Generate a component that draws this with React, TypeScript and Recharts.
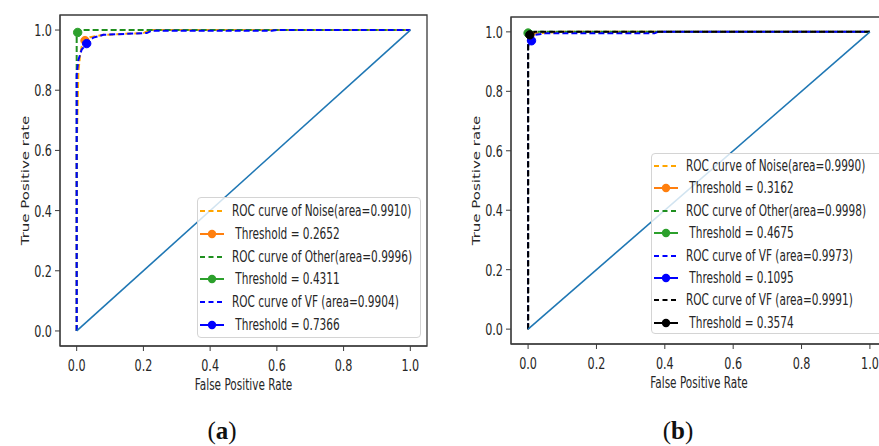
import React from 'react';
import { ComposedChart, Line, XAxis, YAxis, ReferenceArea } from 'recharts';

// ---------- data ----------
const AXIS_TICKS = [0, 0.2, 0.4, 0.6, 0.8, 1.0];
const DIAG_FPR = [0, 1];
const DIAG_TPR = [0, 1];

// panel (a)
const A_NOISE_FPR = [0, 0, 0.005, 0.01, 0.015, 0.025, 0.04, 0.08, 0.2, 0.22, 1];
const A_NOISE_TPR = [0, 0.6, 0.86, 0.915, 0.945, 0.965, 0.976, 0.984, 0.99, 1.0, 1];
const A_OTHER_FPR = [0, 0, 0.01, 1];
const A_OTHER_TPR = [0, 0.99, 1.0, 1];
const A_VF_FPR = [0, 0, 0.005, 0.015, 0.03, 0.05, 0.08, 0.21, 0.225, 0.585, 0.6, 1];
const A_VF_TPR = [0, 0.85, 0.9, 0.935, 0.955, 0.975, 0.984, 0.99, 0.998, 0.998, 1.0, 1];
const A_THR_FPR = [0.025, 0.003, 0.03];
const A_THR_TPR = [0.965, 0.992, 0.955];
const A_CURVE_LABELS = ['ROC curve of Noise(area=0.9910)', 'ROC curve of Other(area=0.9996)', 'ROC curve of VF (area=0.9904)'];
const A_THR_LABELS = [' Threshold = 0.2652', ' Threshold = 0.4311', ' Threshold = 0.7366'];

// panel (b)
const B_NOISE_FPR = [0, 0, 0.005, 0.02, 0.1, 1];
const B_NOISE_TPR = [0, 0.97, 0.985, 0.995, 1.0, 1];
const B_OTHER_FPR = [0, 0, 0.005, 1];
const B_OTHER_TPR = [0, 0.995, 1.0, 1];
const B_VF_FPR = [0, 0, 0.005, 0.02, 0.05, 0.37, 0.38, 1];
const B_VF_TPR = [0, 0.95, 0.97, 0.99, 0.995, 0.995, 1.0, 1];
const B_VF2_FPR = [0, 0, 0.005, 0.02, 1];
const B_VF2_TPR = [0, 0.98, 0.99, 1.0, 1];
const B_THR_FPR = [0.005, 0.0, 0.01, 0.005];
const B_THR_TPR = [0.99, 0.996, 0.97, 0.99];
const B_CURVE_LABELS = ['ROC curve of Noise(area=0.9990)', 'ROC curve of Other(area=0.9998)', 'ROC curve of VF (area=0.9973)', 'ROC curve of VF (area=0.9991)'];
const B_THR_LABELS = [' Threshold = 0.3162', ' Threshold = 0.4675', ' Threshold = 0.1095', ' Threshold = 0.3574'];

// ---------- styles ----------
const CURVE_COLORS = ['#ffa500', '#1f8f1f', '#0000ff', '#000000'];
const THR_COLORS = ['#ff7f0e', '#2ca02c', '#0000ff', '#000000'];
const DIAG_COLOR = '#1f77b4';
const FRAME = '#3a3a3a';
const TEXT = '#262626';
const FONT = 'DejaVu Sans';
const SQ = 0.7;

const toPts = (xs: number[], ys: number[]) => xs.map((x, i) => ({ x, y: ys[i] }));

const XTick = (props: any) => {
  const { x, y, payload } = props;
  return (
    <text transform={`translate(${x},${y + 19.5}) scale(${SQ},1)`} textAnchor="middle" fontSize={16} fill={TEXT} fontFamily={FONT}>
      {Number(payload.value).toFixed(1)}
    </text>
  );
};

const YTick = (props: any) => {
  const { x, y, payload } = props;
  return (
    <text transform={`translate(${x},${y + 6}) scale(${SQ},1)`} textAnchor="end" fontSize={16} fill={TEXT} fontFamily={FONT}>
      {Number(payload.value).toFixed(1)}
    </text>
  );
};

const renderXLabel = (p: any) => {
  const vb = p.viewBox || {};
  return (
    <text transform={`translate(${vb.x + vb.width / 2},${vb.y + 44}) scale(${SQ},1)`} textAnchor="middle" fontSize={15} fill={TEXT} fontFamily={FONT}>
      False Positive Rate
    </text>
  );
};

const renderYLabel = (p: any) => {
  const vb = p.viewBox || {};
  return (
    <text transform={`translate(${vb.x + vb.width - 31},${vb.y + vb.height / 2}) rotate(-90) scale(1,${SQ})`} textAnchor="middle" fontSize={15} fill={TEXT} fontFamily={FONT}>
      True Positive rate
    </text>
  );
};

type Series = { fpr: number[]; tpr: number[]; thrX: number; thrY: number; color: string; thrColor: string; label: string; thrLabel: string };

const buildSeries = (curves: [number[], number[]][], thrX: number[], thrY: number[], labels: string[], thrLabels: string[]): Series[] =>
  curves.map(([f, t], i) => ({
    fpr: f,
    tpr: t,
    thrX: thrX[i],
    thrY: thrY[i],
    color: CURVE_COLORS[i],
    thrColor: THR_COLORS[i],
    label: labels[i],
    thrLabel: thrLabels[i],
  }));

const SERIES_A = buildSeries([[A_NOISE_FPR, A_NOISE_TPR], [A_OTHER_FPR, A_OTHER_TPR], [A_VF_FPR, A_VF_TPR]], A_THR_FPR, A_THR_TPR, A_CURVE_LABELS, A_THR_LABELS);
const SERIES_B = buildSeries([[B_NOISE_FPR, B_NOISE_TPR], [B_OTHER_FPR, B_OTHER_TPR], [B_VF_FPR, B_VF_TPR], [B_VF2_FPR, B_VF2_TPR]], B_THR_FPR, B_THR_TPR, B_CURVE_LABELS, B_THR_LABELS);

function Panel({ series, left, margin }: { series: Series[]; left: number; margin: any }) {
  return (
    <div style={{ position: 'absolute', left, top: 0 }}>
      <ComposedChart width={440} height={446} margin={margin}>
        <XAxis
          type="number"
          dataKey="x"
          domain={[-0.05, 1.05]}
          ticks={AXIS_TICKS}
          allowDataOverflow
          tickSize={5}
          tickMargin={0}
          tick={<XTick />}
          axisLine={{ stroke: FRAME }}
          tickLine={{ stroke: FRAME }}
          height={60}
          label={renderXLabel}
        />
        <YAxis
          type="number"
          domain={[-0.05, 1.05]}
          ticks={AXIS_TICKS}
          allowDataOverflow
          tickSize={5}
          tickMargin={3}
          tick={<YTick />}
          axisLine={{ stroke: FRAME }}
          tickLine={{ stroke: FRAME }}
          width={50}
          label={renderYLabel}
        />
        <ReferenceArea x1={-0.05} x2={1.05} y1={-0.05} y2={1.05} fill="none" fillOpacity={0} stroke={FRAME} strokeWidth={1.3} ifOverflow="visible" />
        {series.map((s, i) => (
          <React.Fragment key={i}>
            <Line data={toPts(s.fpr, s.tpr)} dataKey="y" type="linear" stroke={s.color} strokeWidth={2} strokeDasharray="6 3" dot={false} activeDot={false} isAnimationActive={false} />
            <Line
              data={[{ x: s.thrX, y: s.thrY }]}
              dataKey="y"
              type="linear"
              stroke={s.thrColor}
              strokeWidth={2}
              dot={{ r: 4.2, fill: s.thrColor, stroke: s.thrColor, strokeWidth: 1 }}
              activeDot={false}
              isAnimationActive={false}
            />
          </React.Fragment>
        ))}
        <Line data={toPts(DIAG_FPR, DIAG_TPR)} dataKey="y" type="linear" stroke={DIAG_COLOR} strokeWidth={1.6} dot={false} activeDot={false} isAnimationActive={false} />
      </ComposedChart>
    </div>
  );
}

function LegendBox({ series, left, top, width, height, firstCenter, spacing }: { series: Series[]; left: number; top: number; width: number; height: number; firstCenter: number; spacing: number }) {
  const rows: { label: string; color: string; marker: boolean }[] = [];
  series.forEach((s) => {
    rows.push({ label: s.label, color: s.color, marker: false });
    rows.push({ label: s.thrLabel, color: s.thrColor, marker: true });
  });
  return (
    <div
      style={{
        position: 'absolute',
        left,
        top,
        width,
        height,
        background: 'rgba(255,255,255,0.8)',
        border: '1px solid #d4d4d4',
        borderRadius: 4,
        boxSizing: 'border-box',
      }}
    >
      {rows.map((r, i) => (
        <div key={i} style={{ position: 'absolute', left: 0, top: firstCenter - top + i * spacing - 11, height: 22, width: 400 }}>
          <svg width={30} height={22} style={{ position: 'absolute', left: 1, top: 0 }}>
            {r.marker ? (
              <>
                <line x1={1} x2={25} y1={11} y2={11} stroke={r.color} strokeWidth={2} />
                <circle cx={13} cy={11} r={4.2} fill={r.color} />
              </>
            ) : (
              <line x1={1} x2={25} y1={11} y2={11} stroke={r.color} strokeWidth={2} strokeDasharray="5 3.5" />
            )}
          </svg>
          <span
            style={{
              position: 'absolute',
              left: 34,
              top: 0,
              lineHeight: '22px',
              fontFamily: FONT,
              fontSize: 15.5,
              transform: `scaleX(${SQ - 0.02})`,
              transformOrigin: 'left center',
              whiteSpace: 'pre',
              color: TEXT,
            }}
          >
            {r.label}
          </span>
        </div>
      ))}
    </div>
  );
}

const captionStyle = (cx: number): React.CSSProperties => ({
  position: 'absolute',
  left: cx - 40,
  width: 80,
  top: 416,
  textAlign: 'center',
  fontFamily: '"Liberation Serif", serif',
  fontSize: 25,
  lineHeight: '30px',
  color: '#111',
});

export default function App() {
  return (
    <div style={{ position: 'absolute', left: 0, top: 0, width: 879, height: 446, overflow: 'hidden', background: '#fff' }}>
      <Panel series={SERIES_A} left={0} margin={{ top: 15, right: 13, bottom: 40, left: 10 }} />
      <Panel series={SERIES_B} left={450} margin={{ top: 17, right: 3, bottom: 42, left: 11 }} />
      <LegendBox series={SERIES_A} left={197} top={197} width={224} height={141} firstCenter={210} spacing={22.8} />
      <LegendBox series={SERIES_B} left={651} top={153} width={240} height={181} firstCenter={165} spacing={22.4} />
      <div style={captionStyle(222)}>
        (<b>a</b>)
      </div>
      <div style={captionStyle(678)}>
        (<b>b</b>)
      </div>
    </div>
  );
}
